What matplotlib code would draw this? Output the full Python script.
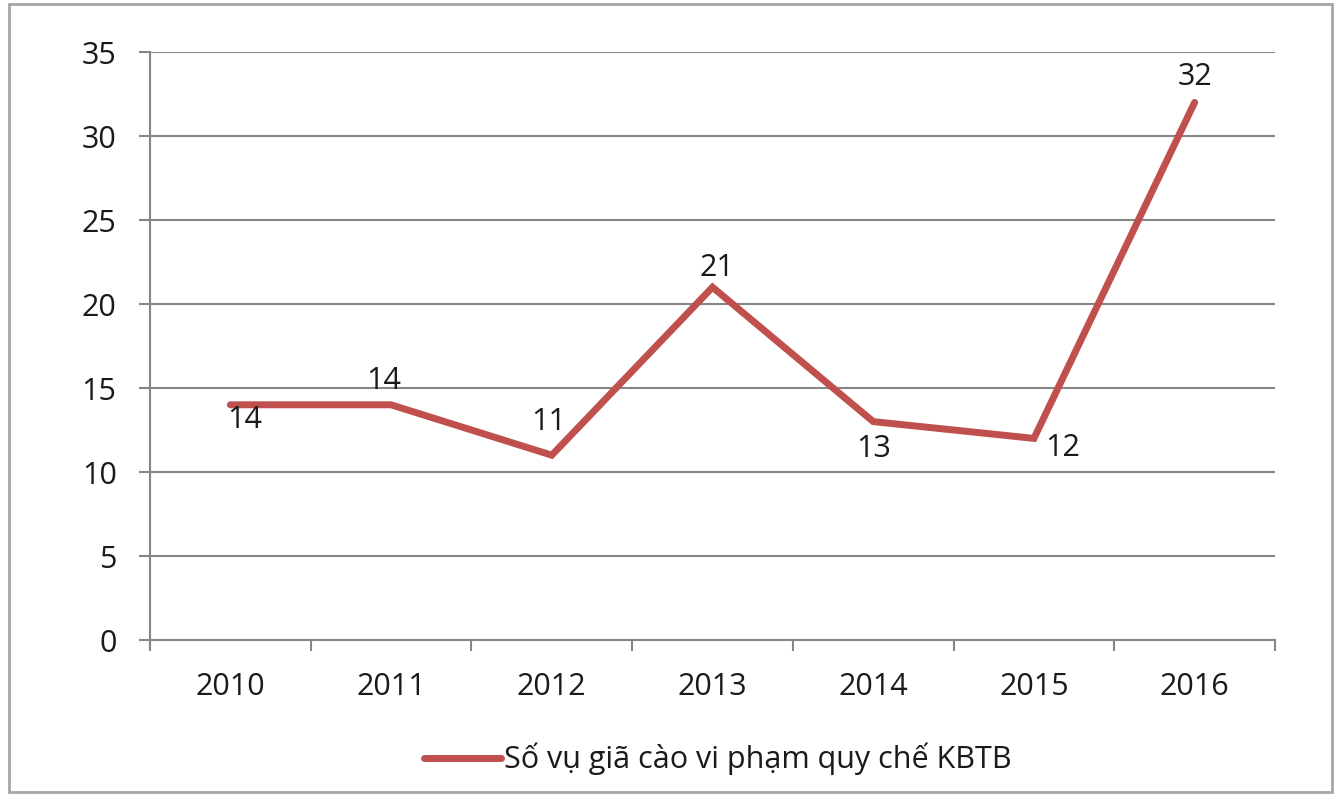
import matplotlib
matplotlib.use('Agg')
import matplotlib.pyplot as plt
from matplotlib.patches import Rectangle

# Data
years = ['2010', '2011', '2012', '2013', '2014', '2015', '2016']
cases = [14, 14, 11, 21, 13, 12, 32]
series_name = 'Số vụ giã cào vi phạm quy chế KBTB'

# label offsets in points (dx, dy) relative to each point
label_offsets = [(10, -11), (-5, 17), (-2, 24), (3, 14), (0, -20), (21, -7), (0, 18)]

plt.rcParams['font.family'] = ['Open Sans', 'DejaVu Sans']
LINE = '#C0504D'
GRID = '#868686'
TXT = '#1a1a1a'
FS = 22

fig = plt.figure(figsize=(13.35, 7.96), dpi=100)
ax = fig.add_axes([150 / 1335, 1 - 640 / 796, 1125 / 1335, 588 / 796])

x = list(range(len(years)))
ax.plot(x, cases, color=LINE, lw=5, solid_capstyle='round', solid_joinstyle='miter',
        label=series_name, zorder=3)
for xi, v, (dx, dy) in zip(x, cases, label_offsets):
    ax.annotate(str(v), (xi, v), xytext=(dx, dy), textcoords='offset points',
                ha='center', va='center', fontsize=FS, color=TXT, zorder=4)

ax.set_xlim(-0.5, len(years) - 0.5)
ax.set_ylim(0, 35)
ax.set_yticks(range(0, 36, 5))
ax.set_xticks(x)
ax.set_xticklabels(years)
ax.set_xticks([i - 0.5 for i in range(len(years) + 1)], minor=True)
ax.yaxis.grid(True, color=GRID, lw=1.5)
ax.set_axisbelow(True)
for s in ['top', 'right']:
    ax.spines[s].set_visible(False)
for s in ['left', 'bottom']:
    ax.spines[s].set_color(GRID)
    ax.spines[s].set_linewidth(1.5)
ax.tick_params(axis='y', length=8, width=1.5, color=GRID, labelsize=FS, pad=16,
               labelcolor=TXT)
ax.tick_params(axis='x', which='major', length=0, labelsize=FS, pad=23, labelcolor=TXT)
ax.tick_params(axis='x', which='minor', length=8, width=1.5, color=GRID)

leg = fig.legend(loc='center', bbox_to_anchor=(718 / 1335, 1 - 759 / 796), frameon=False,
                 fontsize=FS, handlelength=2.5, handletextpad=0.1)
for t in leg.get_texts():
    t.set_color(TXT)

fig.patches.append(Rectangle((9 / 1335, 4 / 796), 1323 / 1335, 788 / 796,
                             transform=fig.transFigure, fill=False,
                             edgecolor='#a6a6a6', lw=2))

fig.savefig('out.png', dpi=100, facecolor='white')
